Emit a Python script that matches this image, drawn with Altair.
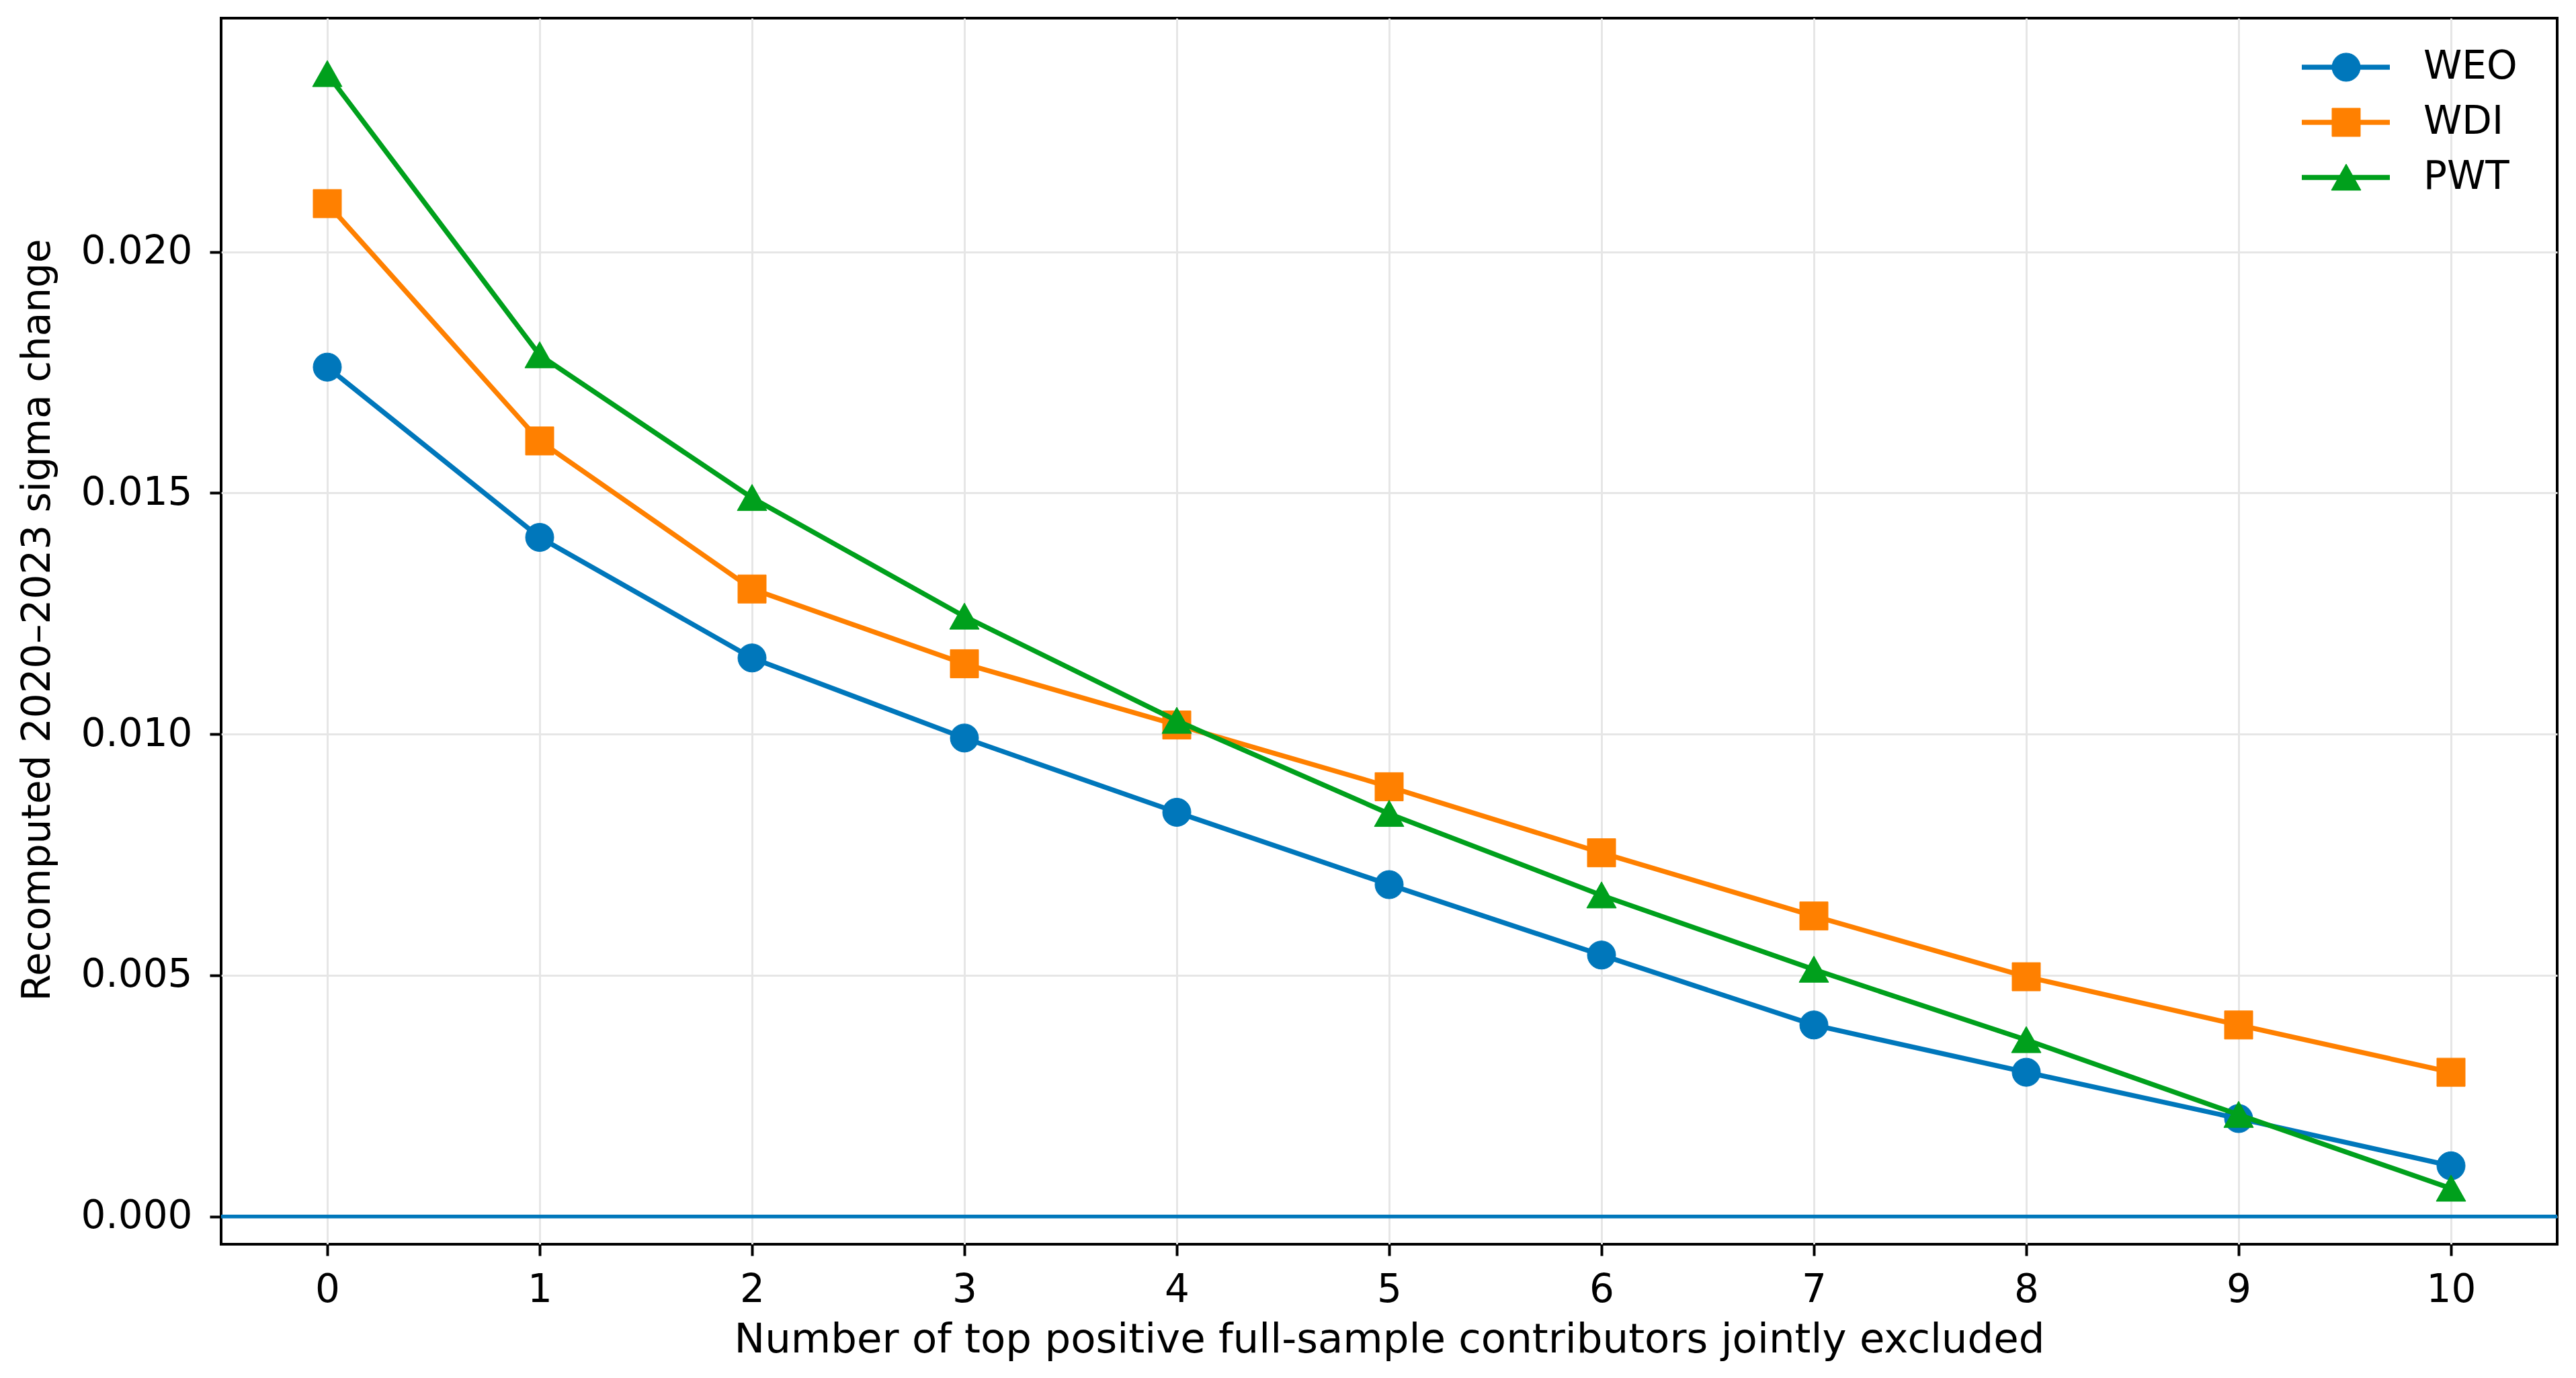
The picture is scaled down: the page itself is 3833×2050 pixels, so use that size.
import altair as alt
import pandas as pd

# ---- data ----
excluded = [0, 1, 2, 3, 4, 5, 6, 7, 8, 9, 10]
weo = [0.01761, 0.01408, 0.01158, 0.00992, 0.00838, 0.00688, 0.00542, 0.00397, 0.00299, 0.00203, 0.00105]
wdi = [0.02100, 0.01608, 0.01301, 0.01146, 0.01019, 0.00891, 0.00754, 0.00623, 0.00497, 0.00397, 0.00299]
pwt = [0.02369, 0.01786, 0.01490, 0.01244, 0.01028, 0.00835, 0.00666, 0.00512, 0.00366, 0.00211, 0.00058]
series_names = ["WEO", "WDI", "PWT"]
series_values = [weo, wdi, pwt]
colors = ["#0077BB", "#FF8000", "#00A01C"]
tri_path = "M0,-1L-1.1,0.95L1.1,0.95Z"
shapes = ["circle", "square", tri_path]
y_ticks = [0.0, 0.005, 0.010, 0.015, 0.020]
x_title = "Number of top positive full-sample contributors jointly excluded"
y_title = "Recomputed 2020\u20132023 sigma change"

FONT = "DejaVu Sans"
FS = 58
W, H = 3476, 1824

x_scale = alt.Scale(domain=[-0.5, 10.5], nice=False, zero=False)
y_scale = alt.Scale(domain=[-0.000576, 0.024846], nice=False, zero=False)

x_axis = alt.Axis(values=excluded, format="d", title=x_title, grid=True,
                  gridColor="#e6e6e6", gridWidth=3, domain=False,
                  tickSize=17, tickWidth=4, tickColor="black",
                  labelFontSize=FS, labelFont=FONT, labelColor="black", labelPadding=22,
                  titleFontSize=61, titleFont=FONT, titleFontWeight="normal", titleColor="black",
                  titleX=W / 2, titleY=160, titleBaseline="alphabetic", titleAlign="center")
y_axis = alt.Axis(values=y_ticks, format=".3f", title=y_title, grid=True,
                  gridColor="#e6e6e6", gridWidth=3, domain=False,
                  tickSize=17, tickWidth=4, tickColor="black",
                  labelFontSize=FS, labelFont=FONT, labelColor="black", labelPadding=26,
                  titleFontSize=FS, titleFont=FONT, titleFontWeight="normal", titleColor="black",
                  titleX=-256, titleY=H / 2 - 17, titleAngle=270, titleBaseline="alphabetic",
                  titleAlign="center")

rows = []
for name, vals in zip(series_names, series_values):
    for xv, yv in zip(excluded, vals):
        rows.append({"series": name, "x": xv, "y": yv})
df = pd.DataFrame(rows)

X = alt.X("x:Q", scale=x_scale, axis=x_axis)
Y = alt.Y("y:Q", scale=y_scale, axis=y_axis)

layers = []
zero = alt.Chart(pd.DataFrame({"y": [0.0]})).mark_rule(color="#0077BB", strokeWidth=5.5).encode(y=Y)
layers.append(zero)

for name, col, shp in zip(series_names, colors, shapes):
    sub = df[df.series == name]
    base = alt.Chart(sub)
    line = base.mark_line(color=col, strokeWidth=7.3).encode(x=X, y=Y)
    size = 1600 if shp == tri_path else 1764
    pts = base.mark_point(shape=shp, filled=True, color=col, opacity=1, size=size,
                          stroke=col, strokeWidth=1).encode(x=X, y=Y)
    layers.append(line)
    layers.append(pts)

main = alt.layer(*layers)

# ---- legend (top-right, inside the plot) ----
leg_df = pd.DataFrame({"series": series_names, "idx": [0, 1, 2]})
leg_y = alt.Y("idx:Q", scale=alt.Scale(domain=[0, 2], range=[73, 237], nice=False, zero=False), axis=None)
leg_layers = []
for i, (name, col, shp) in enumerate(zip(series_names, colors, shapes)):
    one = alt.Chart(leg_df[leg_df.idx == i])
    leg_layers.append(one.mark_rule(color=col, strokeWidth=7.3).encode(
        x=alt.value(3096), x2=alt.value(3227), y=leg_y))
    size = 1600 if shp == tri_path else 1764
    leg_layers.append(one.mark_point(shape=shp, filled=True, color=col, opacity=1, size=size,
                                     stroke=col, strokeWidth=1).encode(
        x=alt.value(3162), y=leg_y))
leg_text = alt.Chart(leg_df).mark_text(align="left", baseline="middle", font=FONT,
                                       fontSize=FS, color="black").encode(
    x=alt.value(3277), y=leg_y, text="series:N")
leg_layers.append(leg_text)
legend = alt.layer(*leg_layers)

chart = alt.layer(main, legend).resolve_scale(y="independent").properties(
    width=W, height=H,
    autosize=alt.AutoSizeParams(type="none"),
    padding={"left": 321, "top": 19, "right": 20, "bottom": 190},
).configure(
    font=FONT, background="white",
    view=alt.ViewConfig(stroke="black", strokeWidth=4),
)

chart.save("out.html", embed_options={"renderer": "svg", "actions": False})
